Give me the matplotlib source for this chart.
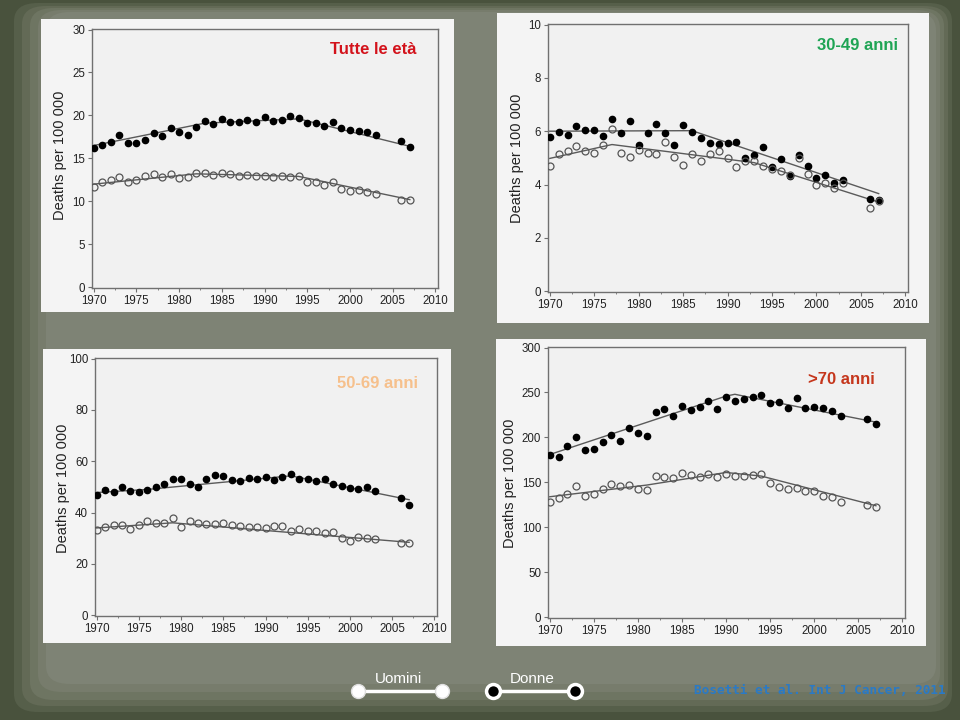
import matplotlib
matplotlib.use("Agg")
import matplotlib.pyplot as plt
from matplotlib.patches import Rectangle, FancyBboxPatch
from matplotlib.lines import Line2D

plt.rcParams['font.family'] = ['Liberation Sans', 'DejaVu Sans']

years = list(range(1970, 2004)) + [2006, 2007]

# Tutte le età
all_men = [16.2, 16.6, 16.9, 17.7, 16.8, 16.8, 17.1, 17.9, 17.6, 18.5,
           18.1, 17.7, 18.7, 19.3, 19.0, 19.6, 19.2, 19.2, 19.5, 19.2,
           19.8, 19.4, 19.5, 19.9, 19.7, 19.1, 19.1, 18.8, 19.2, 18.5,
           18.3, 18.2, 18.1, 17.7, 17.0, 16.3]
all_women = [11.7, 12.2, 12.5, 12.8, 12.2, 12.5, 13.0, 13.2, 12.8, 13.2,
             12.7, 12.8, 13.3, 13.3, 13.1, 13.3, 13.2, 13.0, 13.1, 13.0,
             13.0, 12.8, 13.0, 12.8, 12.9, 12.3, 12.2, 11.9, 12.2, 11.4,
             11.2, 11.3, 11.1, 10.9, 10.2, 10.2]
all_men_trend_x = [1970, 1983, 1994, 2007]
all_men_trend_y = [16.5, 19.1, 19.6, 16.4]
all_women_trend_x = [1970, 1982, 1994, 2007]
all_women_trend_y = [12.0, 13.2, 12.9, 10.2]

# 30-49 anni
a30_men = [5.79, 5.96, 5.86, 6.20, 6.05, 6.05, 5.81, 6.44, 5.94, 6.39,
           5.49, 5.93, 6.27, 5.93, 5.50, 6.24, 5.98, 5.74, 5.55, 5.51,
           5.55, 5.58, 5.00, 5.10, 5.40, 4.67, 4.95, 4.31, 5.10, 4.69,
           4.24, 4.35, 4.04, 4.16, 3.45, 3.41]
a30_women = [4.71, 5.15, 5.24, 5.43, 5.26, 5.19, 5.49, 6.10, 5.20, 5.04,
             5.31, 5.20, 5.16, 5.59, 5.04, 4.72, 5.14, 4.87, 5.14, 5.25,
             4.99, 4.65, 4.87, 4.89, 4.70, 4.60, 4.52, 4.34, 5.01, 4.40,
             3.97, 4.07, 3.86, 4.05, 3.11, 3.38]
a30_men_trend_x = [1970, 1986, 2007]
a30_men_trend_y = [6.0, 6.02, 3.66]
a30_women_trend_x = [1970, 1977, 1993, 2007]
a30_women_trend_y = [4.98, 5.50, 4.82, 3.34]

# 50-69 anni
a50_men = [47.0, 48.8, 47.9, 50.0, 48.4, 48.0, 48.6, 50.0, 51.3, 53.0,
           53.0, 51.0, 50.0, 53.0, 54.6, 54.2, 52.5, 52.2, 53.3, 53.0,
           53.9, 52.7, 53.8, 55.1, 52.9, 53.0, 52.4, 52.9, 51.3, 50.4,
           49.6, 49.1, 49.9, 48.3, 45.7, 43.1]
a50_women = [33.2, 34.3, 35.2, 35.0, 33.7, 35.2, 36.9, 35.8, 35.9, 37.9,
             34.5, 36.7, 36.0, 35.4, 35.4, 36.0, 35.0, 34.9, 34.2, 34.2,
             34.1, 34.6, 34.7, 33.0, 33.4, 32.9, 32.9, 31.9, 32.4, 30.0,
             29.0, 30.4, 30.2, 29.8, 28.1, 28.1]
a50_men_trend_x = [1970, 1976, 1993, 2007]
a50_men_trend_y = [47.8, 49.0, 54.3, 45.0]
a50_women_trend_x = [1970, 1979, 2007]
a50_women_trend_y = [34.0, 36.0, 28.4]

# >70 anni
a70_men = [181, 178, 191, 200, 186, 187, 195, 203, 196, 211,
           205, 202, 228, 232, 224, 235, 231, 234, 241, 232,
           245, 241, 243, 245, 247, 238, 239, 233, 244, 233,
           234, 233, 229, 224, 220, 215]
a70_women = [128, 133, 137, 146, 135, 137, 143, 148, 146, 147,
             143, 141, 157, 156, 155, 160, 158, 156, 159, 156,
             159, 157, 157, 158, 159, 149, 145, 143, 144, 140,
             140, 135, 134, 128, 125, 123]
a70_men_trend_x = [1970, 1990, 1991, 1992, 2007]
a70_men_trend_y = [181, 246, 248, 246, 217]
a70_women_trend_x = [1970, 1981, 1990, 1994, 2007]
a70_women_trend_y = [134, 147, 161, 157, 124]

W, H = 960, 720
fig = plt.figure(figsize=(9.6, 7.2), dpi=100)
fig.patch.set_facecolor('#49523d')


def fbox(x0, y0, x1, y1):
    return [x0 / W, 1 - y1 / H, (x1 - x0) / W, (y1 - y0) / H]


# slide background: soft lighter interior
for (x0, y0, x1, y1), col in [((14, 3, 952, 712), '#565f4a'),
                              ((22, 6, 948, 706), '#636a56'),
                              ((30, 8, 944, 700), '#6e7562'),
                              ((38, 10, 940, 692), '#777c6c'),
                              ((46, 12, 936, 684), '#7e8375')]:
    r = fbox(x0, y0, x1, y1)
    fig.add_artist(FancyBboxPatch((r[0], r[1]), r[2], r[3],
                                  boxstyle="round,pad=0,rounding_size=0.025",
                                  transform=fig.transFigure, facecolor=col,
                                  edgecolor='none', zorder=0))

panels = [
    dict(bg=(41, 19, 454, 312), ax=(92, 29, 438, 288), ymax=30, ystep=5,
         men=all_men, women=all_women,
         mt=(all_men_trend_x, all_men_trend_y), wt=(all_women_trend_x, all_women_trend_y),
         title='Tutte le età', tcol='#d3121b', tx=416, ty=50, lx=60, ly=155),
    dict(bg=(497, 13, 929, 323), ax=(548, 24, 908, 292), ymax=10, ystep=2,
         men=a30_men, women=a30_women,
         mt=(a30_men_trend_x, a30_men_trend_y), wt=(a30_women_trend_x, a30_women_trend_y),
         title='30-49 anni', tcol='#1ea454', tx=898, ty=45, lx=517, ly=158),
    dict(bg=(43, 349, 451, 643), ax=(95, 358, 437, 616), ymax=100, ystep=20,
         men=a50_men, women=a50_women,
         mt=(a50_men_trend_x, a50_men_trend_y), wt=(a50_women_trend_x, a50_women_trend_y),
         title='50-69 anni', tcol='#f6c08c', tx=418, ty=383, lx=63, ly=488),
    dict(bg=(496, 339, 926, 646), ax=(548, 347, 905, 618), ymax=300, ystep=50,
         men=a70_men, women=a70_women,
         mt=(a70_men_trend_x, a70_men_trend_y), wt=(a70_women_trend_x, a70_women_trend_y),
         title='>70 anni', tcol='#c5361c', tx=875, ty=380, lx=510, ly=483),
]

for p in panels:
    b = fbox(*p['bg'])
    fig.add_artist(Rectangle((b[0], b[1]), b[2], b[3], transform=fig.transFigure,
                             facecolor='#f4f4f4', edgecolor='none', zorder=1))
    ax = fig.add_axes(fbox(*p['ax']))
    ax.set_zorder(2)
    ax.set_facecolor('#f1f1f1')
    ax.plot(p['mt'][0], p['mt'][1], color='#5a5a5a', lw=1.0, zorder=2)
    ax.plot(p['wt'][0], p['wt'][1], color='#5a5a5a', lw=1.0, zorder=2)
    ax.plot(years, p['men'], 'o', ms=4.5, color='black', zorder=3)
    ax.plot(years, p['women'], 'o', ms=5, mfc='none', mec='#555555', mew=0.9, zorder=3)
    ax.set_xlim(1969.8, 2010.3)
    ax.set_ylim(-p['ymax'] * 0.003, p['ymax'] * 1.002)
    ax.set_xticks(range(1970, 2011, 5))
    ax.set_xticks([1972.5 + 5 * i for i in range(8)], minor=True)
    ax.set_yticks([p['ystep'] * i for i in range(int(p['ymax'] / p['ystep']) + 1)])
    for s in ax.spines.values():
        s.set_color('#707070')
        s.set_linewidth(1.0)
    ax.tick_params(which='major', length=3, width=0.8, color='#707070',
                   labelsize=8.3, labelcolor='#222222', pad=2)
    ax.tick_params(which='minor', length=1.5, width=0.6, color='#707070')
    fig.text(p['tx'] / W, 1 - p['ty'] / H, p['title'], color=p['tcol'],
             fontsize=12, fontweight='bold', ha='right', va='center', zorder=5)
    fig.text(p['lx'] / W, 1 - p['ly'] / H, 'Deaths per 100 000', rotation=90,
             fontsize=10.5, color='#222222', ha='center', va='center', zorder=5)

# legend
fig.text(398 / W, 1 - 679 / H, 'Uomini', color='white', fontsize=11,
         ha='center', va='center')
fig.text(532 / W, 1 - 679 / H, 'Donne', color='white', fontsize=11,
         ha='center', va='center')
fig.add_artist(Line2D([358 / W, 442 / W], [1 - 691 / H, 1 - 691 / H],
                      transform=fig.transFigure, color='white', lw=2.5,
                      marker='o', ms=10, mfc='white', mec='#e0e0e0', mew=1))
fig.add_artist(Line2D([493 / W, 575 / W], [1 - 691 / H, 1 - 691 / H],
                      transform=fig.transFigure, color='white', lw=2.5,
                      marker='o', ms=10, mfc='black', mec='white', mew=2.5))
fig.text(946 / W, 1 - 690 / H, 'Bosetti et al. Int J Cancer, 2011',
         color='#2a7ac6', fontsize=9.2, fontweight='bold', ha='right', va='center',
         family=['DejaVu Sans Mono'])

fig.savefig('out.png', dpi=100, facecolor=fig.get_facecolor())
